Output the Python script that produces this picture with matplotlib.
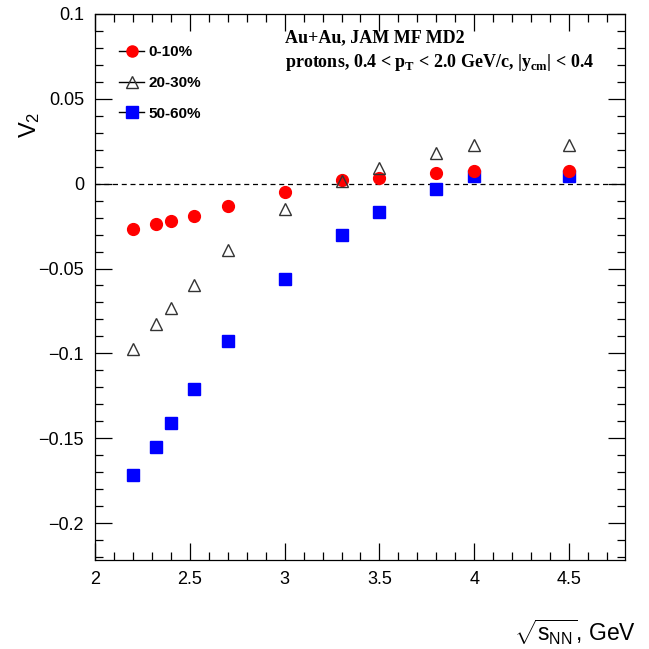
import numpy as np
import matplotlib.pyplot as plt
from matplotlib.lines import Line2D
from matplotlib.ticker import MultipleLocator

# ------------------------------------------------------------------
SQRT_S = [2.2, 2.32, 2.4, 2.52, 2.7, 3.0, 3.3, 3.5, 3.8, 4.0, 4.5]

V2_C0010 = [-0.0265, -0.0236, -0.0222, -0.0189, -0.0130, -0.0047,
            0.0020, 0.0035, 0.0065, 0.0077, 0.0077]
V2_C2030 = [-0.0975, -0.0826, -0.0730, -0.0596, -0.0390, -0.0147,
            0.0018, 0.0094, 0.0180, 0.0230, 0.0230]
V2_C5060 = [-0.1715, -0.1550, -0.1410, -0.1210, -0.0925, -0.0560,
            -0.0300, -0.0165, -0.0030, 0.0047, 0.0047]

LABELS = ["0-10%", "20-30%", "50-60%"]
# ------------------------------------------------------------------

plt.rcParams['font.family'] = ['Liberation Sans', 'DejaVu Sans']
plt.rcParams['mathtext.fontset'] = 'custom'
plt.rcParams['mathtext.rm'] = 'Liberation Sans'
plt.rcParams['mathtext.it'] = 'Liberation Sans'
plt.rcParams['mathtext.bf'] = 'Liberation Serif:bold'

fig = plt.figure(figsize=(6.49, 6.49), dpi=100)
ax = fig.add_axes([95 / 649, 1 - 560 / 649, 530 / 649, 546 / 649])

ax.axhline(0.0, color="k", ls=(0, (4, 3)), lw=0.9, zorder=1)

ax.plot(SQRT_S, V2_C0010, ls="none", marker="o", ms=8.5,
        mfc="#ff0000", mec="#ff0000", zorder=3)
ax.plot(SQRT_S, V2_C2030, ls="none", marker="^", ms=9,
        mfc="none", mec="#333333", mew=1.0, zorder=4)
ax.plot(SQRT_S, V2_C5060, ls="none", marker="s", ms=8.5,
        mfc="#0000ff", mec="#0000ff", zorder=2)

ax.set_xlim(2.0, 4.795)
ax.set_ylim(-0.2218, 0.1)

ax.xaxis.set_major_locator(MultipleLocator(0.5))
ax.xaxis.set_minor_locator(MultipleLocator(0.1))
ax.yaxis.set_major_locator(MultipleLocator(0.05))
ax.yaxis.set_minor_locator(MultipleLocator(0.01))
ax.tick_params(which="both", direction="in", top=True, right=True,
               labelsize=13, width=0.9, pad=8)
ax.tick_params(which="major", length=12)
ax.tick_params(which="minor", length=6)
for s in ax.spines.values():
    s.set_linewidth(0.9)

ax.set_xticks([2, 2.5, 3, 3.5, 4, 4.5])
ax.set_xticklabels(["2", "2.5", "3", "3.5", "4", "4.5"])
ax.set_yticks([-0.2, -0.15, -0.1, -0.05, 0, 0.05, 0.1])
ax.set_yticklabels(["\u22120.2", "\u22120.15", "\u22120.1", "\u22120.05",
                    "0", "0.05", "0.1"])

fig.text(30 / 649, 1 - 125 / 649, r"V$_\mathrm{2}$", rotation=90, fontsize=17,
         ha="center", va="center")
fig.text(636 / 649, 1 - 632 / 649, r"$\sqrt{\mathrm{s_{NN}}}$, GeV",
         fontsize=16.5, ha="right", va="center")

ax.text(0.358, 0.957, "Au+Au, JAM MF MD2", transform=ax.transAxes,
        family="Liberation Serif", weight="bold", fontsize=13, va="center")
ax.text(0.358, 0.912,
        r"protons, 0.4 < p$_\mathbf{T}$ < 2.0 GeV/c, |y$_\mathbf{cm}$| < 0.4",
        transform=ax.transAxes, family="Liberation Serif", weight="bold",
        fontsize=13, va="center")

handles = [
    Line2D([], [], color="k", lw=1, marker="o", ms=8, mfc="#ff0000", mec="#ff0000"),
    Line2D([], [], color="k", lw=1, marker="^", ms=8.5, mfc="none", mec="#333333"),
    Line2D([], [], color="k", lw=1, marker="s", ms=8, mfc="#0000ff", mec="#0000ff"),
]
leg = ax.legend(handles, LABELS, loc="upper left", bbox_to_anchor=(0.02, 0.968),
                frameon=False, handlelength=1.6, handletextpad=0.3,
                labelspacing=1.1, prop={"size": 11, "weight": "bold"})

fig.savefig("out.png", dpi=100)
